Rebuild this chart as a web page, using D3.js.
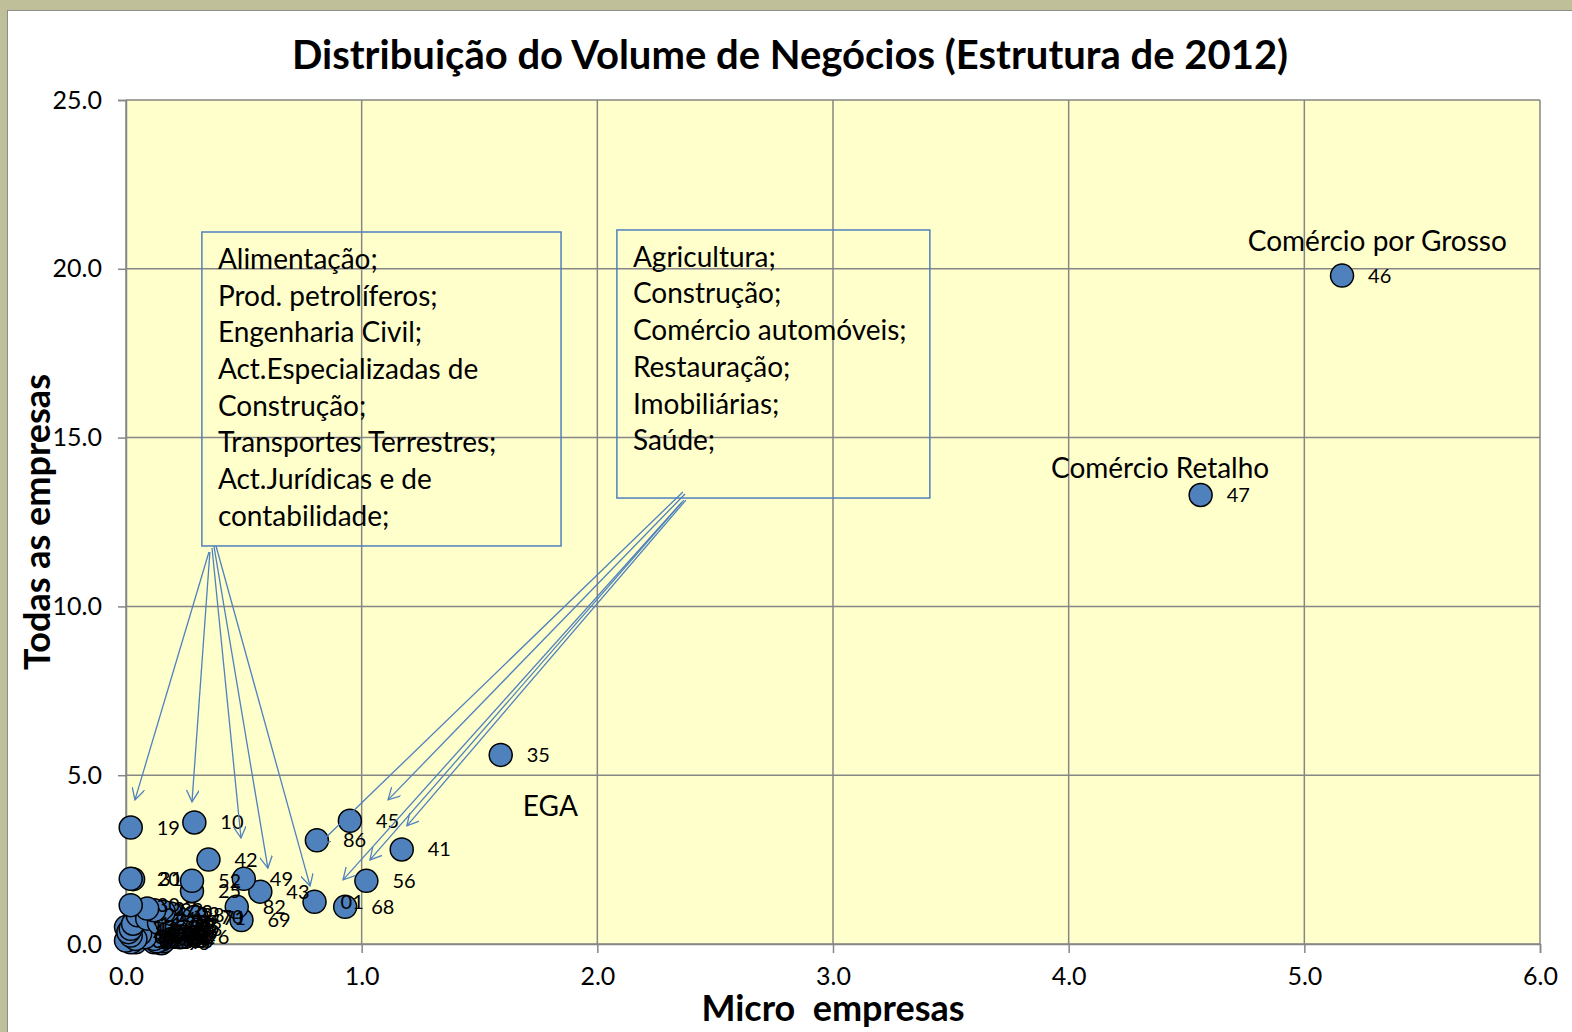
<!DOCTYPE html>
<html>
<head>
<meta charset="utf-8">
<script src="https://cdn.jsdelivr.net/npm/d3@7"></script>
<style>
  body { margin: 0; background: #ffffff; }
  svg text { font-family: "Lato", "Open Sans", sans-serif; }
</style>
</head>
<body>
<script>
// sector codes (CAE) and shares of turnover, in %
var codes = ["46", "47", "35", "19", "10", "45", "86", "41", "42", "49", "43", "01", "68", "56",
             "52", "25", "82", "69", "70", "71", "20", "31",
             "30", "27", "32", "33", "22", "28", "16", "18", "23", "24", "26", "11", "13", "14",
             "15", "17", "21", "38", "39", "53", "55", "58", "59", "61", "62", "63", "64", "65",
             "66", "73", "74", "77", "78", "79", "80", "81", "85", "87", "88", "90", "93", "94",
             "95", "96", "05", "06", "08", "12", "02"];
var micro = [5.16, 4.56, 1.59, 0.02, 0.29, 0.95, 0.81, 1.17, 0.35, 0.50, 0.57, 0.80, 0.93, 1.02,
             0.28, 0.28, 0.47, 0.49, 0.29, 0.30, 0.02, 0.03,
             0.02, 0.09, 0.12, 0.16, 0.19, 0.21, 0.17, 0.18, 0.14, 0.09, 0.05, 0.03, 0.02, 0.01,
             0.02, 0.04, 0.06, 0.08, 0.00, 0.02, 0.10, 0.12, 0.14, 0.16, 0.17, 0.13, 0.15, 0.13,
             0.16, 0.11, 0.11, 0.19, 0.20, 0.19, 0.15, 0.18, 0.15, 0.12, 0.16, 0.13, 0.14, 0.17,
             0.15, 0.23, 0.01, 0.03, 0.05, 0.00, 0.04];
var todas = [19.8, 13.3, 5.60, 3.45, 3.60, 3.65, 3.07, 2.80, 2.50, 1.93, 1.55, 1.25, 1.10, 1.87,
             1.87, 1.57, 1.10, 0.71, 0.80, 0.78, 1.93, 1.92,
             1.15, 1.05, 1.00, 0.95, 0.90, 0.85, 0.70, 0.55, 0.62, 0.75, 0.85, 0.60, 0.45, 0.35,
             0.25, 0.15, 0.30, 0.20, 0.10, 0.05, 0.35, 0.15, 0.25, 0.40, 0.20, 0.08, 0.12, 0.45,
             0.30, 0.50, 0.28, 0.65, 0.45, 0.35, 0.50, 0.55, 0.18, 0.05, 0.08, 0.30, 0.10, 0.18,
             0.02, 0.20, 0.20, 0.10, 0.30, 0.50, 0.05];

var xTicks = [0, 1, 2, 3, 4, 5, 6];
var yTicks = [0, 5, 10, 15, 20, 25];

// text boxes (data units: x0, y0, x1, y1) and their lines
var boxLeftLines = ["Alimentação;", "Prod. petrolíferos;", "Engenharia Civil;", "Act.Especializadas de",
                    "Construção;", "Transportes Terrestres;", "Act.Jurídicas e de", "contabilidade;"];
var boxRightLines = ["Agricultura;", "Construção;", "Comércio automóveis;", "Restauração;",
                     "Imobiliárias;", "Saúde;"];
var boxLeft = [0.322, 21.09, 1.846, 11.79];
var boxRight = [2.083, 21.15, 3.411, 13.21];

// arrows from the boxes to the points (data units: x0, y0, x1, y1)
var arrows = [
  [0.352, 11.61, 0.038, 4.27],
  [0.356, 11.61, 0.280, 4.21],
  [0.365, 11.73, 0.488, 3.14],
  [0.373, 11.79, 0.602, 2.25],
  [0.382, 11.79, 0.781, 1.72],
  [2.363, 13.39, 0.815, 2.93],
  [2.372, 13.33, 1.112, 4.27],
  [2.376, 13.15, 1.192, 3.50],
  [2.367, 13.15, 1.035, 2.49],
  [2.359, 13.09, 0.921, 1.90]
];

// sector names written next to the big points
var sectorNotes = [
  { text: "Comércio por Grosso", x: 4.76, y: 20.82 },
  { text: "Comércio Retalho", x: 3.925, y: 14.1 },
  { text: "EGA", x: 1.684, y: 4.09 }
];

var W = 1572, H = 1032;
var plotLeft = 126, plotRight = 1540, plotTop = 100, plotBottom = 944;

var svg = d3.select("body").append("svg")
    .attr("width", W)
    .attr("height", H);

// outer frame
svg.append("rect").attr("x", 0).attr("y", 0).attr("width", W).attr("height", H)
    .attr("fill", "#bfbf99");
svg.append("rect").attr("x", 7.5).attr("y", 10.5).attr("width", W).attr("height", H)
    .attr("fill", "#ffffff").attr("stroke", "#8c8c8c").attr("stroke-width", 1);

var xScale = d3.scaleLinear().domain([0, 6]).range([plotLeft, plotRight]);
var yScale = d3.scaleLinear().domain([0, 25]).range([plotBottom, plotTop]);

// plot area
svg.append("rect")
    .attr("x", plotLeft).attr("y", plotTop)
    .attr("width", plotRight - plotLeft).attr("height", plotBottom - plotTop)
    .attr("fill", "#ffffcc");

// grid
svg.append("g").selectAll("line")
    .data(yTicks)
    .enter().append("line")
    .attr("x1", plotLeft).attr("x2", plotRight)
    .attr("y1", function(d) { return yScale(d); })
    .attr("y2", function(d) { return yScale(d); })
    .attr("stroke", "#868686").attr("stroke-width", 1.5);

svg.append("g").selectAll("line")
    .data(xTicks)
    .enter().append("line")
    .attr("y1", plotTop).attr("y2", plotBottom)
    .attr("x1", function(d) { return xScale(d); })
    .attr("x2", function(d) { return xScale(d); })
    .attr("stroke", "#868686").attr("stroke-width", 1.5);

// axes
var xAxis = d3.axisBottom(xScale).tickValues(xTicks).tickSize(9).tickPadding(14)
    .tickFormat(d3.format(".1f"));
var gx = svg.append("g")
    .attr("transform", "translate(0," + plotBottom + ")")
    .call(xAxis);

var yAxis = d3.axisLeft(yScale).tickValues(yTicks).tickSize(8).tickPadding(16)
    .tickFormat(d3.format(".1f"));
var gy = svg.append("g")
    .attr("transform", "translate(" + plotLeft + ",0)")
    .call(yAxis);

[gx, gy].forEach(function(g) {
  g.select(".domain").attr("stroke", "#868686").attr("stroke-width", 1.5);
  g.selectAll(".tick line").attr("stroke", "#868686").attr("stroke-width", 1.5);
  g.selectAll(".tick text")
      .attr("fill", "#000")
      .style("font-size", "25px")
      .style("font-family", "Lato, 'Open Sans', sans-serif");
});

// text boxes
function drawBox(b, lines) {
  svg.append("rect")
      .attr("x", xScale(b[0])).attr("y", yScale(b[1]))
      .attr("width", xScale(b[2]) - xScale(b[0]))
      .attr("height", yScale(b[3]) - yScale(b[1]))
      .attr("fill", "none")
      .attr("stroke", "#4f81bd").attr("stroke-width", 1.5);
  svg.append("g").selectAll("text")
      .data(lines)
      .enter().append("text")
      .attr("x", xScale(b[0]) + 16)
      .attr("y", function(d, i) { return yScale(b[1]) + 27 + i * 36.7; })
      .attr("dy", "0.35em")
      .style("font-size", "28px")
      .text(function(d) { return d; });
}
drawBox(boxLeft, boxLeftLines);
drawBox(boxRight, boxRightLines);

// points
var points = codes.map(function(c, i) {
  return { code: c, x: micro[i], y: todas[i] };
});

svg.append("g").selectAll("circle")
    .data(points.slice().reverse())
    .enter().append("circle")
    .attr("cx", function(d) { return xScale(d.x); })
    .attr("cy", function(d) { return yScale(d.y); })
    .attr("r", 11.5)
    .attr("fill", "#4f81bd")
    .attr("stroke", "#000")
    .attr("stroke-width", 1.5);

svg.append("g").selectAll("text")
    .data(points)
    .enter().append("text")
    .attr("x", function(d) { return xScale(d.x) + 26; })
    .attr("y", function(d) { return yScale(d.y); })
    .attr("dy", "0.35em")
    .style("font-size", "20px")
    .text(function(d) { return d.code; });

// arrows
svg.append("defs").append("marker")
    .attr("id", "head")
    .attr("viewBox", "0 0 12 12")
    .attr("refX", 11).attr("refY", 6)
    .attr("markerWidth", 13).attr("markerHeight", 13)
    .attr("markerUnits", "userSpaceOnUse")
    .attr("orient", "auto")
    .append("path")
    .attr("d", "M0,0 L11,6 L0,12")
    .attr("fill", "none")
    .attr("stroke", "#4f81bd")
    .attr("stroke-width", 1.2);

svg.append("g").selectAll("line")
    .data(arrows)
    .enter().append("line")
    .attr("x1", function(d) { return xScale(d[0]); })
    .attr("y1", function(d) { return yScale(d[1]); })
    .attr("x2", function(d) { return xScale(d[2]); })
    .attr("y2", function(d) { return yScale(d[3]); })
    .attr("stroke", "#4f81bd")
    .attr("stroke-width", 1.3)
    .attr("marker-end", "url(#head)");

// sector names
svg.append("g").selectAll("text")
    .data(sectorNotes)
    .enter().append("text")
    .attr("x", function(d) { return xScale(d.x); })
    .attr("y", function(d) { return yScale(d.y); })
    .attr("dy", "0.35em")
    .style("font-size", "28px")
    .text(function(d) { return d.text; });

// title
svg.append("text")
    .attr("x", 790).attr("y", 55)
    .attr("dy", "0.35em")
    .attr("text-anchor", "middle")
    .style("font-size", "40px")
    .style("font-weight", "bold")
    .text("Distribuição do Volume de Negócios (Estrutura de 2012)");

// X axis label
svg.append("text")
    .attr("x", 833).attr("y", 1008)
    .attr("dy", "0.35em")
    .attr("text-anchor", "middle")
    .style("font-size", "36px")
    .style("font-weight", "bold")
    .style("white-space", "pre")
    .text("Micro  empresas");

// Y axis label
svg.append("text")
    .attr("transform", "translate(37,522) rotate(-90)")
    .attr("dy", "0.35em")
    .attr("text-anchor", "middle")
    .style("font-size", "36px")
    .style("font-weight", "bold")
    .text("Todas as empresas");
</script>
</body>
</html>
